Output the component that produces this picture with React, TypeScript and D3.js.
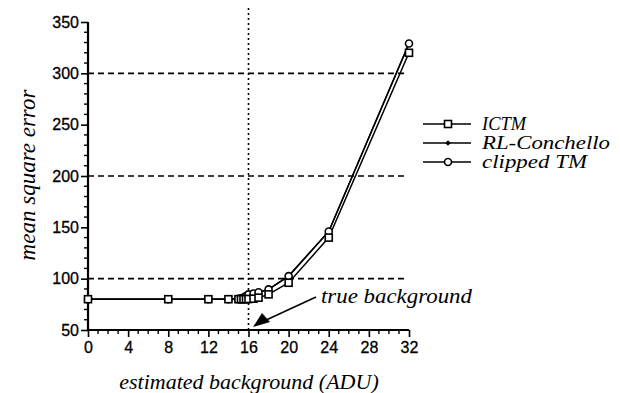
import React, { useRef, useEffect } from "react";
import * as d3 from "d3";

const bgValues = [0, 8, 12, 14, 15, 15.25, 15.5, 15.75, 16, 16.5, 17, 18, 20, 24, 32];
const ictmValues = [80, 80, 80, 80, 80, 80, 80, 80, 80.2, 80.5, 81.5, 84.7, 96, 140, 320];
const rlValues = [80, 80, 80, 80, 80.3, 80.8, 81.5, 83, 84.7, 85.5, 86.7, 89.6, 102.5, 146, 329];
const clippedValues = [80, 80, 80, 80, 80.3, 80.8, 81.5, 83, 84.7, 85.5, 86.7, 89.6, 102.5, 146, 329];

const seriesNames = ["ICTM", "RL-Conchello", "clipped TM"];
const legendWidths = [44, 128, 105];
const xTicks = [0, 4, 8, 12, 16, 20, 24, 28, 32];
const yTicks = [50, 100, 150, 200, 250, 300, 350];
const gridValues = [100, 200, 300];
const trueBackground = 16;

const W = 620;
const H = 393;

const App = () => {
  const ref = useRef<SVGSVGElement>(null);

  useEffect(() => {
    const svg = d3.select(ref.current);
    svg.selectAll("*").remove();

    const x = d3.scaleLinear().domain([0, 32]).range([88, 409]);
    const y = d3.scaleLinear().domain([50, 350]).range([330, 22]);

    const serif = "'Liberation Serif', 'Times New Roman', serif";
    const sans = "'Liberation Sans', Arial, sans-serif";

    // dashed reference lines
    svg
      .append("g")
      .selectAll("line")
      .data(gridValues)
      .join("line")
      .attr("x1", x(0))
      .attr("x2", x(31.7))
      .attr("y1", (d) => y(d))
      .attr("y2", (d) => y(d))
      .attr("stroke", "#000")
      .attr("stroke-width", 1.6)
      .attr("stroke-dasharray", "6 4");

    // true background dotted line
    svg
      .append("line")
      .attr("x1", x(trueBackground))
      .attr("x2", x(trueBackground))
      .attr("y1", 8)
      .attr("y2", y(50))
      .attr("stroke", "#000")
      .attr("stroke-width", 1.6)
      .attr("stroke-dasharray", "2 3");

    // axes
    const yAxis = d3
      .axisLeft(y)
      .tickValues(yTicks)
      .tickSize(7)
      .tickPadding(2)
      .tickFormat(d3.format("d"));
    const gy = svg.append("g").attr("transform", `translate(${x(0)},0)`).call(yAxis);
    gy.select(".domain").attr("stroke-width", 2.2).attr("d", `M0,${y(350)}V${y(50)}`);
    gy.selectAll(".tick line").attr("stroke-width", 1.6);
    gy.selectAll("text")
      .attr("font-family", sans)
      .attr("font-size", 16)
      .attr("fill", "#000")
      .attr("stroke", "#000")
      .attr("stroke-width", 0.3);

    const yMinor = d3.range(50, 351, 10).filter((v) => v % 50 !== 0);
    svg
      .append("g")
      .selectAll("line")
      .data(yMinor)
      .join("line")
      .attr("x1", x(0) - 4)
      .attr("x2", x(0))
      .attr("y1", (d) => y(d))
      .attr("y2", (d) => y(d))
      .attr("stroke", "#000")
      .attr("stroke-width", 1.4);

    const xAxis = d3
      .axisBottom(x)
      .tickValues(xTicks)
      .tickSize(7)
      .tickPadding(5)
      .tickFormat(d3.format("d"));
    const gx = svg.append("g").attr("transform", `translate(0,${y(50)})`).call(xAxis);
    gx.select(".domain").attr("stroke-width", 2.2).attr("d", `M${x(0)},0H${x(32)}`);
    gx.selectAll(".tick line").attr("stroke-width", 1.6);
    gx.selectAll("text")
      .attr("font-family", sans)
      .attr("font-size", 16)
      .attr("fill", "#000")
      .attr("stroke", "#000")
      .attr("stroke-width", 0.3);

    const xMinor = d3.range(0, 33, 1).filter((v) => v % 4 !== 0);
    svg
      .append("g")
      .selectAll("line")
      .data(xMinor)
      .join("line")
      .attr("x1", (d) => x(d))
      .attr("x2", (d) => x(d))
      .attr("y1", y(50))
      .attr("y2", y(50) + 4)
      .attr("stroke", "#000")
      .attr("stroke-width", 1.4);

    // axis titles
    svg
      .append("text")
      .attr("text-anchor", "middle")
      .attr("x", 249)
      .attr("y", 389)
      .attr("font-family", serif)
      .attr("font-style", "italic")
      .attr("font-size", 22)
      .text("estimated background (ADU)");

    svg
      .append("text")
      .attr("text-anchor", "middle")
      .attr("transform", "rotate(-90)")
      .attr("x", -175)
      .attr("y", 35)
      .attr("font-family", serif)
      .attr("font-style", "italic")
      .attr("font-size", 23)
      .text("mean square error");

    // series
    const line = d3
      .line<number>()
      .x((_, i) => x(bgValues[i]))
      .y((d) => y(d));

    const all = [ictmValues, rlValues, clippedValues];
    all.forEach((vals) => {
      svg
        .append("path")
        .attr("d", line(vals))
        .attr("fill", "none")
        .attr("stroke", "#000")
        .attr("stroke-width", 1.5);
    });

    const drawMarker = (g, kind, cx, cy) => {
      if (kind === 0) {
        g.append("rect")
          .attr("x", cx - 3.5)
          .attr("y", cy - 3.5)
          .attr("width", 7)
          .attr("height", 7)
          .attr("fill", "#fff")
          .attr("stroke", "#000")
          .attr("stroke-width", 1.6);
      } else if (kind === 1) {
        g.append("path")
          .attr("d", `M${cx},${cy - 2.8}L${cx + 2.8},${cy}L${cx},${cy + 2.8}L${cx - 2.8},${cy}Z`)
          .attr("fill", "#000");
      } else {
        g.append("circle")
          .attr("cx", cx)
          .attr("cy", cy)
          .attr("r", 3.5)
          .attr("fill", "#fff")
          .attr("stroke", "#000")
          .attr("stroke-width", 1.6);
      }
    };

    const gm = svg.append("g");
    [1, 2, 0].forEach((k) => {
      all[k].forEach((v, i) => drawMarker(gm, k, x(bgValues[i]), y(v)));
    });

    // legend
    const lg = svg.append("g");
    seriesNames.forEach((name, i) => {
      const ly = 124 + i * 19;
      lg.append("line")
        .attr("x1", 423)
        .attr("x2", 471)
        .attr("y1", ly)
        .attr("y2", ly)
        .attr("stroke", "#000")
        .attr("stroke-width", 1.5);
      drawMarker(lg, i, 448, ly);
      lg.append("text")
        .attr("x", 482)
        .attr("y", ly + 6)
        .attr("font-family", serif)
        .attr("font-style", "italic")
        .attr("font-size", 18)
        .attr("textLength", legendWidths[i])
        .attr("lengthAdjust", "spacingAndGlyphs")
        .text(name);
    });

    // annotation arrow
    svg
      .append("line")
      .attr("x1", 316)
      .attr("y1", 297)
      .attr("x2", 264)
      .attr("y2", 321)
      .attr("stroke", "#000")
      .attr("stroke-width", 1.5);
    svg
      .append("path")
      .attr("d", "M253,327L262,313L270,322Z")
      .attr("fill", "#000");

    svg
      .append("text")
      .attr("x", 321)
      .attr("y", 303)
      .attr("font-family", serif)
      .attr("font-style", "italic")
      .attr("font-size", 21)
      .attr("textLength", 151)
      .attr("lengthAdjust", "spacingAndGlyphs")
      .text("true background");
  }, []);

  return (
    <svg
      ref={ref}
      width={W}
      height={H}
      style={{ position: "absolute", left: 0, top: 0, background: "#fff" }}
    />
  );
};

export default App;
